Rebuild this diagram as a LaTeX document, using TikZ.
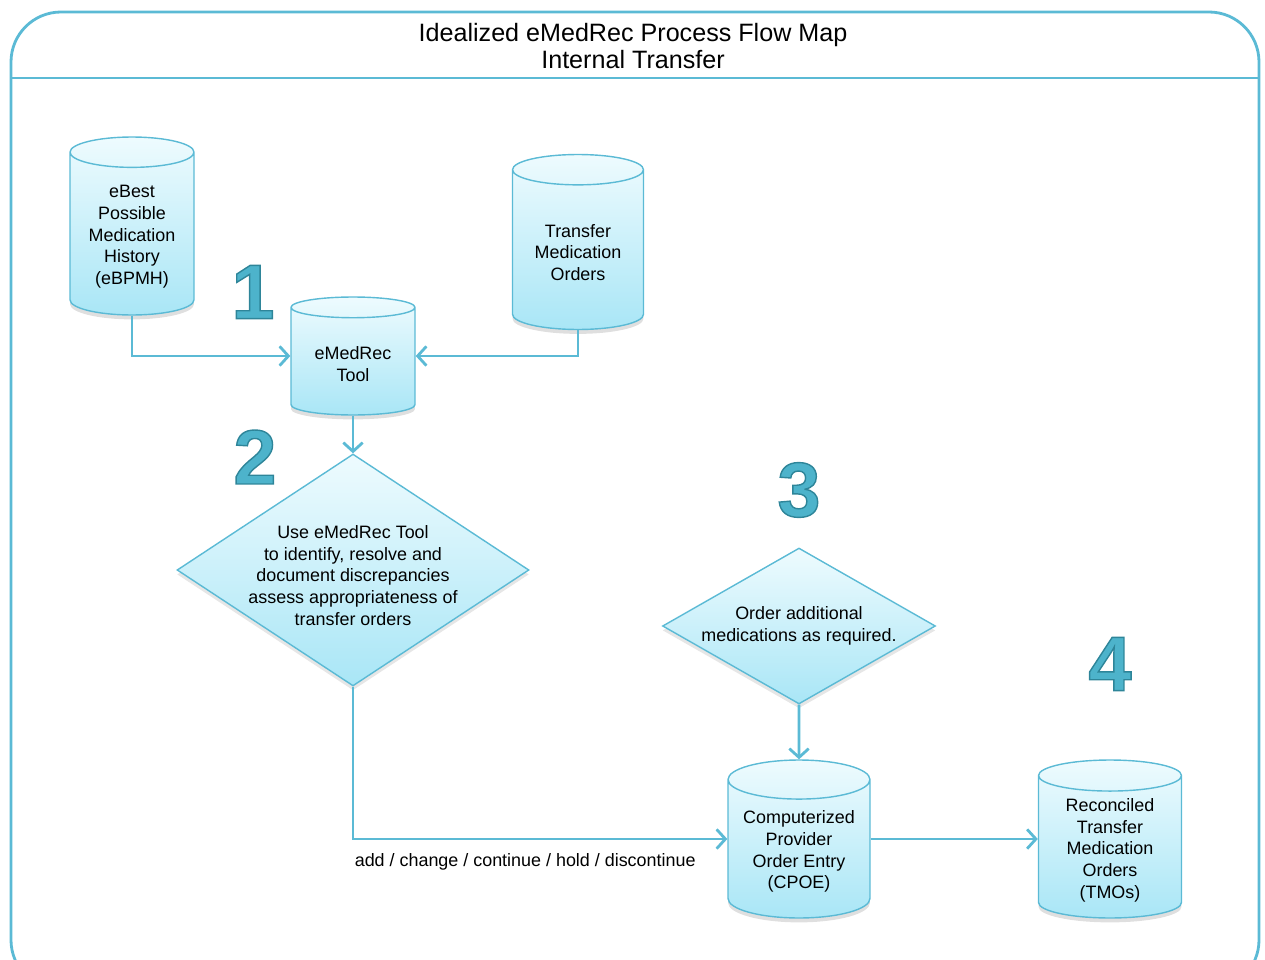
\documentclass[tikz,border=0pt]{standalone}
\usepackage{fontspec}
\setmainfont{Liberation Sans}
\usetikzlibrary{shapes.geometric}
\usetikzlibrary{arrows.meta}
\usetikzlibrary{shadows}
\definecolor{flowline}{HTML}{5BBAD5}
\definecolor{shadetop}{HTML}{EEFBFE}
\definecolor{shadebot}{HTML}{A9E6F6}
\definecolor{numfill}{HTML}{4DB3CB}
\definecolor{numedge}{HTML}{2E8599}
% filled digit with a darker outline
\newcommand{\stepdigit}[1]{\textcolor{numfill}{%
  \special{pdf:literal direct 0.18 0.52 0.6 RG 0.8 w 2 Tr}#1\special{pdf:literal direct 0 Tr}}}

\begin{document}
\begin{tikzpicture}[x=0.02cm, y=-0.02cm,
    store/.style={cylinder, shape border rotate=90, aspect=0.35, draw=flowline,
      line width=0.8pt, top color=shadetop, bottom color=shadebot, align=center,
      inner sep=0pt, anchor=shape center, font=\fontsize{10.2}{12.4}\selectfont,
      drop shadow={shadow xshift=0pt, shadow yshift=-2.5pt, opacity=0.25}},
    decision/.style={diamond, draw=flowline, line width=0.8pt, top color=shadetop,
      bottom color=shadebot, align=center, inner sep=0pt,
      font=\fontsize{10.2}{12.4}\selectfont,
      drop shadow={shadow xshift=0pt, shadow yshift=-2.5pt, opacity=0.2}},
    flow/.style={draw=flowline, line width=1.6pt, -{Straight Barb[length=5pt,width=11pt]}},
    stepnum/.style={font=\fontsize{44}{44}\selectfont\bfseries, inner sep=0pt},
    edgelabel/.style={font=\fontsize{10.2}{12.4}\selectfont, inner sep=0pt}]
  \useasboundingbox (0,0) rectangle (1265,960);
  % frame and title
  \draw [flowline, line width=1.6pt, rounded corners=1cm] (11,12) rectangle (1259,990);
  \draw [flowline, line width=1.6pt] (11,78) -- (1259,78);
  \node (title) [align=center, font=\fontsize{14.3}{15.9}\selectfont] at (633,46)
    {Idealized eMedRec Process Flow Map\\Internal Transfer};
  % stores
  \node (bpmh) [store, text height=59.8pt, minimum width=2.48cm, minimum height=3.56cm] at (132,226)
    {eBest\\Possible\\Medication\\History\\(eBPMH)};
  \node (orders) [store, text height=35pt, minimum width=2.62cm, minimum height=3.5cm] at (578,242)
    {Transfer\\Medication\\Orders};
  \node (tool) [store, text height=22.6pt, aspect=0.27, minimum width=2.48cm, minimum height=2.36cm] at (353,356)
    {eMedRec\\Tool};
  \node (cpoe) [store, text height=47.4pt, minimum width=2.84cm, minimum height=3.16cm] at (799,839)
    {Computerized\\Provider\\Order Entry\\(CPOE)};
  \node (tmos) [store, text height=60.5pt, minimum width=2.86cm, minimum height=3.16cm] at (1110,839)
    {Reconciled\\Transfer\\Medication\\Orders\\(TMOs)};
  % decisions
  \node (review) [decision, text height=63.3pt, aspect=1.52, inner xsep=-9pt, minimum width=7.04cm, minimum height=4.64cm] at (353,570)
    {Use eMedRec Tool\\to identify, resolve and\\document discrepancies\\assess appropriateness of\\transfer orders};
  \node (extra) [decision, aspect=1.75, minimum width=5.46cm, minimum height=3.12cm] at (799,626)
    {Order additional\\medications as required.};
  % step numbers
  \node (n1) [stepnum] at (253,292) {\stepdigit{1}};
  \node (n2) [stepnum] at (255,457) {\stepdigit{2}};
  \node (n3) [stepnum] at (799,490) {\stepdigit{3}};
  \node (n4) [stepnum] at (1110,664) {\stepdigit{4}};
  % connectors
  \draw [flow] (bpmh.south) |- (tool.west |- tool.shape center);
  \draw [flow] (orders.south) |- (tool.east |- tool.shape center);
  \draw [flow] (tool.south) -- (review.north);
  \draw [flow] (review.south) |- node [edgelabel, pos=0.73, yshift=-0.46cm]
    {add / change / continue / hold / discontinue} (cpoe.west |- cpoe.shape center);
  \draw [flow] (extra.south) -- (cpoe.north);
  \draw [flow] (cpoe.east |- cpoe.shape center) -- (tmos.west |- tmos.shape center);
\end{tikzpicture}
\end{document}
